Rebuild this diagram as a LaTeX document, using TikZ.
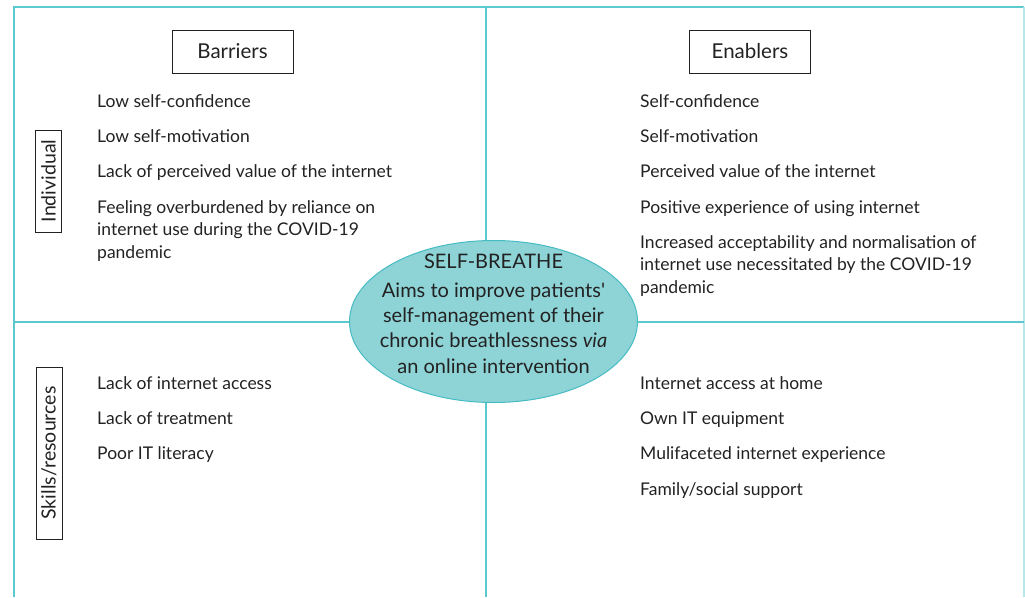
\documentclass[tikz,border=0pt]{standalone}
\usepackage{fontspec}
\setmainfont{Lato}
\usetikzlibrary{shapes.geometric}
\definecolor{grid}{HTML}{5CC9CF}
\definecolor{ellfill}{HTML}{8ED3D6}
\definecolor{ellline}{HTML}{45BCC3}
\definecolor{txt}{HTML}{222222}
\tikzset{
  item/.style={anchor=base west, inner sep=0pt, text=txt, font=\fontsize{17.5}{22.5}\selectfont, align=left},
  head/.style={draw=txt, line width=0.9pt, text=txt, font=\fontsize{20.5}{24}\selectfont, minimum width=121pt, minimum height=43pt, inner sep=0pt},
  side/.style={draw=txt, line width=0.9pt, text=txt, font=\fontsize{19.5}{22}\selectfont, rotate=90, minimum height=26pt, inner sep=0pt},
  gridline/.style={draw=grid, line width=1.2pt},
}
\begin{document}
\begin{tikzpicture}[x=1pt,y=-1pt]
\useasboundingbox (0,0) rectangle (1025,597);
% grid
\coordinate (tl) at (14,7);
\coordinate (tr) at (1024,7);
\coordinate (bl) at (14,597);
\coordinate (br) at (1024,597);
\coordinate (vt) at (486,7);
\coordinate (vb) at (486,597);
\coordinate (hl) at (14,322);
\coordinate (hr) at (1024,322);
\draw[gridline] (bl) -- (tl) -- (tr);
\draw[draw=grid!45, line width=1.2pt] (tr) -- (br);
\draw[gridline] (vt) -- (vb);
\draw[gridline] (hl) -- (hr);
% headers
\node[head] (bar) at (232.5,51.5) {Barriers};
\node[head] (ena) at (750,51.5) {Enablers};
\node[side, minimum width=102pt] (ind) at (48.5,181) {Individual};
\node[side, minimum width=172pt] (skl) at (49,453) {Skills/resources};
% barriers individual
\node[item] (b1) at (97,107) {Low self-confidence};
\node[item] (b2) at (97,142) {Low self-motivation};
\node[item] (b3) at (97,177) {Lack of perceived value of the internet};
\node[item] (b4) at (97,258) {Feeling overburdened by reliance on\\internet use during the COVID-19\\pandemic};
% enablers individual
\node[item] (e1) at (640,107) {Self-confidence};
\node[item] (e2) at (640,142) {Self-motivation};
\node[item] (e3) at (640,177) {Perceived value of the internet};
\node[item] (e4) at (640,213) {Positive experience of using internet};
\node[item] (e5) at (640,293) {Increased acceptability and normalisation of\\internet use necessitated by the COVID-19\\pandemic};
% barriers skills
\node[item] (b5) at (97,389) {Lack of internet access};
\node[item] (b6) at (97,424) {Lack of treatment};
\node[item] (b7) at (97,459) {Poor IT literacy};
% enablers skills
\node[item] (e6) at (640,389) {Internet access at home};
\node[item] (e7) at (640,424) {Own IT equipment};
\node[item] (e8) at (640,459) {Mulifaceted internet experience};
\node[item] (e9) at (640,495) {Family/social support};
% ellipse
\node[ellipse, draw=ellline, fill=ellfill, line width=1pt, minimum width=288pt, minimum height=162pt, inner sep=0pt] (ell) at (493.5,321.5) {};
\node[anchor=base, text=txt, align=center, font=\fontsize{20}{25.3}\selectfont, inner sep=0pt] (elltxt) at (493.5,373) {SELF-BREATHE\\[3.5pt]Aims to improve patients\textquotesingle\\self-management of their\\chronic breathlessness \textit{via}\\an online intervention};
\end{tikzpicture}
\end{document}
